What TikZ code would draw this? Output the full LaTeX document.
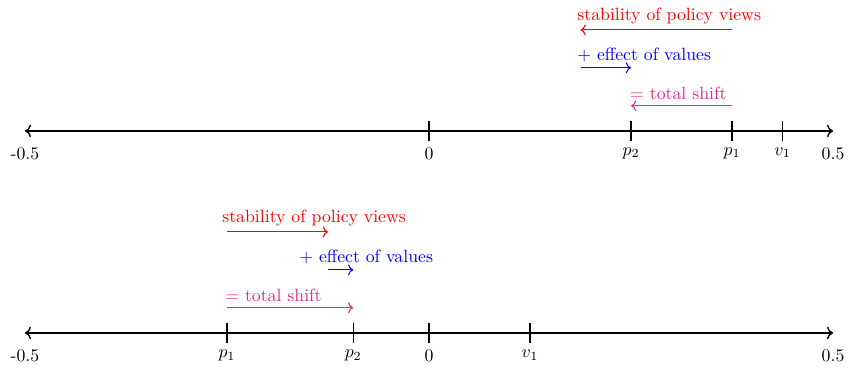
\documentclass[tikz,border=0pt]{standalone}
\usetikzlibrary{arrows.meta}
\definecolor{stabc}{rgb}{1,0,0}
\definecolor{valc}{rgb}{0,0,1}
\definecolor{totc}{HTML}{DE2A8E}
\tikzset{
  axis/.style={<->, thick},
  axtick/.style={thick},
  shiftarr/.style={->, semithick, draw=#1},
  lab/.style={anchor=south west, inner xsep=0pt, text=#1},
}

\begin{document}
\begin{tikzpicture}[x=16cm, y=1cm]
    \useasboundingbox (-0.5309,-0.772) rectangle (0.5210,6.593);
    % top line
    \coordinate (tL) at (-0.5,4);
    \coordinate (tR) at (0.5,4);
    \draw[axis] (tL) -- (tR);
    \node[below] (tm) at (-0.5,3.8) {-0.5};
    \node[below] (tp) at (0.5,3.8) {0.5};
    \foreach \x/\name/\txt in {0/tz/0, 0.25/tptwo/$p_2$, 0.375/tpone/$p_1$, 0.4375/tvone/$v_1$} {
      \coordinate (\name) at (\x,4);
      \draw[axtick] (\x,4.2) -- (\x,3.8) node[below] (\name l) {\txt};
    }
    \coordinate (ta) at (0.1875,6);
    \coordinate (tb) at (0.375,6);
    \coordinate (tc) at (0.1875,5.25);
    \coordinate (td) at (0.25,5.25);
    \coordinate (te) at (0.375,4.5);
    \coordinate (tf) at (0.25,4.5);
    \draw[shiftarr=stabc] (tb) -- (ta);
    \draw[shiftarr=valc] (tc) -- (td);
    \draw[shiftarr=totc] (te) -- (tf);
    \node[lab=stabc] (tstab) at (0.1832,6) {stability of policy views};
    \node[lab=valc] (tval) at (0.1832,5.25) {$+$ effect of values};
    \node[lab=totc] (ttot) at (0.2485,4.5) {$=$ total shift};
    % bottom line
    \coordinate (bL) at (-0.5,0);
    \coordinate (bR) at (0.5,0);
    \draw[axis] (bL) -- (bR);
    \node[below] (bm) at (-0.5,-0.2) {-0.5};
    \node[below] (bp) at (0.5,-0.2) {0.5};
    \foreach \x/\name/\txt in {-0.25/bpone/$p_1$, -0.09375/bptwo/$p_2$, 0/bz/0, 0.125/bvone/$v_1$} {
      \coordinate (\name) at (\x,0);
      \draw[axtick] (\x,0.2) -- (\x,-0.2) node[below] (\name l) {\txt};
    }
    \coordinate (ba) at (-0.25,2);
    \coordinate (bb) at (-0.125,2);
    \coordinate (bc) at (-0.125,1.25);
    \coordinate (bd) at (-0.09375,1.25);
    \coordinate (be) at (-0.25,0.5);
    \coordinate (bf) at (-0.09375,0.5);
    \draw[shiftarr=stabc] (ba) -- (bb);
    \draw[shiftarr=valc] (bc) -- (bd);
    \draw[shiftarr=totc] (be) -- (bf);
    \node[lab=stabc] (bstab) at (-0.2562,2) {stability of policy views};
    \node[lab=valc] (bval) at (-0.1609,1.25) {$+$ effect of values};
    \node[lab=totc] (btot) at (-0.2525,0.5) {$=$ total shift};
\end{tikzpicture}
\end{document}
